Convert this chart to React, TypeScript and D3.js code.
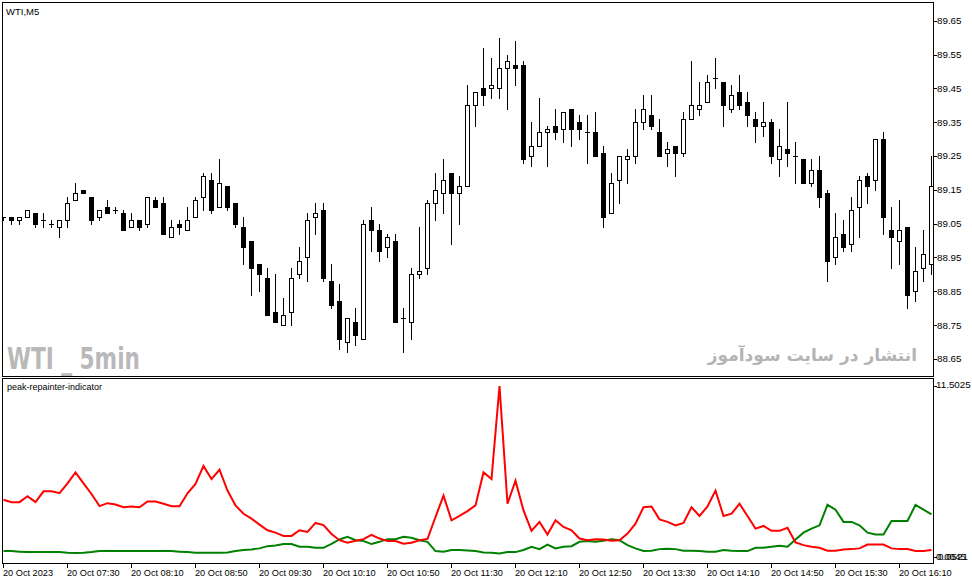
import * as d3 from "d3"
import React from "react"

// 5 minute WTI bars, 20 Oct 2023 from 06:50
const opens = [
  89.07, 89.07, 89.06, 89.07, 89.08, 89.06, 89.05, 89.04, 89.06, 89.12,
  89.15, 89.13, 89.07, 89.1, 89.09, 89.08, 89.04, 89.06, 89.05, 89.12,
  89.11, 89.01, 89.05, 89.03, 89.07, 89.13, 89.18, 89.1, 89.16, 89.11,
  89.04, 89.0, 88.93, 88.89, 88.79, 88.75, 88.79, 88.9, 88.95, 89.07,
  89.09, 88.88, 88.82, 88.7, 88.76, 88.71, 89.06, 89.03, 88.98, 89.0,
  88.77, 88.76, 88.9, 88.92, 89.11, 89.14, 89.2, 89.14, 89.16, 89.4,
  89.45, 89.45, 89.45, 89.51, 89.52, 89.52, 89.25, 89.28, 89.32, 89.34,
  89.33, 89.39, 89.35, 89.32, 89.32, 89.26, 89.08, 89.18, 89.24, 89.25,
  89.35, 89.37, 89.32, 89.26, 89.28, 89.26, 89.36, 89.39, 89.41, 89.48,
  89.47, 89.39, 89.44, 89.41, 89.36, 89.34, 89.35, 89.24, 89.27, 89.25,
  89.24, 89.17, 89.21, 89.14, 88.95, 89.02, 88.99, 89.1, 89.19, 89.18,
  89.3, 89.03, 89.0, 89.04, 88.85, 88.92, 88.93,
]
const highs = [
  89.07, 89.07, 89.07, 89.09, 89.08, 89.08, 89.06, 89.06, 89.13, 89.17,
  89.15, 89.13, 89.09, 89.12, 89.1, 89.09, 89.08, 89.06, 89.13, 89.13,
  89.13, 89.06, 89.06, 89.1, 89.13, 89.2, 89.2, 89.24, 89.16, 89.11,
  89.07, 89.0, 88.93, 88.92, 88.9, 88.83, 88.92, 88.98, 89.08, 89.11,
  89.11, 88.93, 88.87, 88.77, 88.8, 89.06, 89.1, 89.05, 89.02, 89.02,
  88.8, 88.92, 89.04, 89.12, 89.2, 89.24, 89.2, 89.19, 89.46, 89.44,
  89.57, 89.54, 89.6, 89.55, 89.59, 89.53, 89.35, 89.42, 89.34, 89.39,
  89.38, 89.39, 89.37, 89.37, 89.38, 89.28, 89.2, 89.25, 89.27, 89.39,
  89.43, 89.43, 89.36, 89.29, 89.28, 89.38, 89.53, 89.47, 89.49, 89.54,
  89.47, 89.46, 89.49, 89.44, 89.38, 89.41, 89.36, 89.33, 89.41, 89.29,
  89.24, 89.24, 89.25, 89.15, 89.08, 89.06, 89.13, 89.19, 89.2, 89.3,
  89.32, 89.1, 89.12, 89.04, 88.98, 89.03, 89.25,
]
const lows = [
  89.06, 89.05, 89.05, 89.07, 89.04, 89.04, 89.04, 89.01, 89.04, 89.12,
  89.14, 89.05, 89.06, 89.08, 89.08, 89.03, 89.04, 89.03, 89.04, 89.1,
  89.02, 89.01, 89.02, 89.03, 89.07, 89.09, 89.08, 89.1, 89.09, 89.04,
  88.93, 88.84, 88.85, 88.78, 88.76, 88.75, 88.75, 88.89, 88.88, 89.02,
  88.88, 88.8, 88.68, 88.67, 88.69, 88.71, 88.97, 88.94, 88.95, 88.76,
  88.67, 88.71, 88.89, 88.9, 89.06, 89.08, 88.99, 89.05, 89.16, 89.34,
  89.4, 89.42, 89.42, 89.39, 89.46, 89.23, 89.22, 89.28, 89.22, 89.3,
  89.29, 89.28, 89.3, 89.23, 89.25, 89.04, 89.08, 89.11, 89.17, 89.23,
  89.33, 89.33, 89.25, 89.22, 89.19, 89.25, 89.36, 89.37, 89.41, 89.45,
  89.34, 89.38, 89.39, 89.34, 89.29, 89.31, 89.23, 89.19, 89.22, 89.17,
  89.17, 89.16, 89.1, 88.88, 88.93, 88.97, 88.97, 89.01, 89.11, 89.15,
  89.02, 88.92, 88.93, 88.8, 88.82, 88.88, 88.9,
]
const closes = [
  89.07, 89.06, 89.07, 89.09, 89.05, 89.06, 89.05, 89.06, 89.11, 89.14,
  89.14, 89.06, 89.09, 89.08, 89.09, 89.03, 89.06, 89.04, 89.13, 89.1,
  89.02, 89.04, 89.04, 89.06, 89.12, 89.19, 89.09, 89.17, 89.1, 89.05,
  88.98, 88.92, 88.9, 88.78, 88.76, 88.78, 88.89, 88.94, 89.06, 89.08,
  88.89, 88.81, 88.71, 88.77, 88.72, 89.05, 89.03, 88.97, 89.01, 88.76,
  88.77, 88.9, 88.91, 89.11, 89.15, 89.18, 89.14, 89.16, 89.4, 89.44,
  89.43, 89.46, 89.51, 89.53, 89.51, 89.24, 89.28, 89.32, 89.33, 89.32,
  89.38, 89.33, 89.33, 89.32, 89.25, 89.07, 89.17, 89.25, 89.25, 89.35,
  89.39, 89.34, 89.25, 89.27, 89.26, 89.36, 89.4, 89.4, 89.47, 89.48,
  89.4, 89.43, 89.4, 89.37, 89.34, 89.35, 89.25, 89.28, 89.26, 89.25,
  89.17, 89.21, 89.13, 88.94, 89.01, 88.98, 89.09, 89.18, 89.16, 89.3,
  89.07, 89.01, 89.03, 88.84, 88.91, 88.96, 89.16,
]

// peak-repainter-indicator buffers
const redLine = [
  3.85, 3.69, 3.69, 4.09, 3.69, 4.42, 4.42, 4.29, 4.95, 5.69,
  4.95, 4.24, 3.42, 3.62, 3.53, 3.35, 3.4, 3.35, 3.73, 3.73,
  3.58, 3.42, 3.42, 4.29, 4.91, 6.13, 5.24, 5.87, 4.47, 3.47,
  2.91, 2.58, 2.18, 1.8, 1.64, 1.42, 1.42, 1.8, 1.69, 2.29,
  2.15, 1.55, 1.13, 0.96, 1.09, 1.2, 1.49, 1.24, 1.07, 1.07,
  0.89, 0.96, 1.13, 1.22, 2.69, 4.13, 2.47, 2.76, 3.09, 3.47,
  5.69, 5.24, 11.5025, 3.58, 5.13, 3.13, 1.76, 2.36, 1.51, 2.47,
  2.02, 1.8, 1.24, 1.13, 1.2, 1.18, 1.09, 1.13, 1.58, 2.24,
  3.35, 3.4, 2.53, 2.36, 2.13, 2.29, 3.35, 2.76, 3.4, 4.47,
  2.76, 2.91, 3.58, 2.76, 1.91, 2.09, 1.76, 1.76, 1.96, 0.98,
  0.8, 0.69, 0.62, 0.42, 0.42, 0.51, 0.53, 0.58, 0.84, 0.84,
  0.84, 0.58, 0.53, 0.53, 0.4, 0.4, 0.47,
]
const greenLine = [
  0.4, 0.4, 0.36, 0.33, 0.33, 0.33, 0.33, 0.33, 0.29, 0.27,
  0.29, 0.33, 0.4, 0.4, 0.4, 0.4, 0.4, 0.4, 0.4, 0.4,
  0.4, 0.4, 0.36, 0.33, 0.29, 0.29, 0.29, 0.29, 0.31, 0.4,
  0.47, 0.51, 0.58, 0.73, 0.78, 0.87, 0.87, 0.69, 0.69, 0.62,
  0.62, 0.88, 1.18, 1.36, 1.13, 1.07, 0.87, 1.02, 1.2, 1.2,
  1.36, 1.29, 1.13, 1.02, 0.4, 0.36, 0.47, 0.47, 0.44, 0.4,
  0.31, 0.29, 0.24, 0.33, 0.33, 0.47, 0.69, 0.53, 0.84, 0.58,
  0.69, 0.73, 1.02, 1.07, 1.02, 1.09, 1.2, 1.13, 0.8, 0.58,
  0.41, 0.42, 0.53, 0.56, 0.53, 0.42, 0.42, 0.4, 0.36, 0.36,
  0.47, 0.42, 0.4, 0.4, 0.62, 0.62, 0.69, 0.76, 0.69, 1.18,
  1.64, 1.91, 2.13, 3.51, 3.18, 2.36, 2.36, 2.13, 1.64, 1.51,
  1.51, 2.42, 2.42, 2.42, 3.51, 3.18, 2.87,
]

const timeLabels = [
  "20 Oct 2023", "20 Oct 07:30", "20 Oct 08:10", "20 Oct 08:50", "20 Oct 09:30",
  "20 Oct 10:10", "20 Oct 10:50", "20 Oct 11:30", "20 Oct 12:10", "20 Oct 12:50",
  "20 Oct 13:30", "20 Oct 14:10", "20 Oct 14:50", "20 Oct 15:30", "20 Oct 16:10",
]
const barsPerLabel = 8
const priceTicks = [89.65, 89.55, 89.45, 89.35, 89.25, 89.15, 89.05, 88.95, 88.85, 88.75, 88.65]
const indMax = 11.5025
const indMinLabels = ["0.0045", "0.0521"]

const W = 972
const H = 584
const left = 2
const right = 933
const mainTop = 2
const mainBottom = 376
const indTop = 378
const indBottom = 563

const axisFont = "Liberation Sans, Arial, sans-serif"

export default function App() {
  const x = d3.scaleLinear().domain([0, 116]).range([3, 931])
  const y = d3.scaleLinear().domain([88.65, 89.65]).range([358.9, 20.7])
  const yi = d3.scaleLinear().domain([0, indMax]).range([557, 386])

  const line = d3
    .line<number>()
    .x((_, i) => x(i) + 0.5)
    .y((v) => yi(v))

  const px = (v: number) => Math.round(v) + 0.5

  return (
    <svg
      width={W}
      height={H}
      style={{ position: "absolute", left: 0, top: 0, background: "#fff" }}
      fontFamily={axisFont}
    >
      <defs>
        <clipPath id="mainClip">
          <rect x={left} y={mainTop} width={right - left} height={mainBottom - mainTop} />
        </clipPath>
        <clipPath id="indClip">
          <rect x={left} y={indTop} width={right - left} height={indBottom - indTop} />
        </clipPath>
      </defs>
      <rect width={W} height={H} fill="#fff" />

      {/* watermarks */}
      <text
        x={7}
        y={369}
        fontFamily="Liberation Sans Narrow, DejaVu Sans Condensed, sans-serif"
        fontWeight="bold"
        fontSize={31}
        fill="#b9b9b9"
        textLength={133}
        lengthAdjust="spacingAndGlyphs"
      >
        WTI _ 5min
      </text>
      <text
        x={917}
        y={361}
        fontFamily="DejaVu Sans, sans-serif"
        fontWeight="bold"
        fontSize={17}
        fill="#b4b4b4"
        textAnchor="start"
        direction="rtl"
      >
        انتشار در سایت سودآموز
      </text>

      {/* candles */}
      <g clipPath="url(#mainClip)" shapeRendering="crispEdges">
        {opens.map((o, i) => {
          const c = closes[i]
          const cx = Math.round(x(i))
          const top = Math.round(y(Math.max(o, c)))
          const bot = Math.round(y(Math.min(o, c)))
          const bull = c >= o
          return (
            <g key={i}>
              <line
                x1={cx + 0.5}
                x2={cx + 0.5}
                y1={Math.round(y(highs[i]))}
                y2={Math.round(y(lows[i])) + 1}
                stroke="#000"
              />
              {bot - top < 1 ? (
                <line x1={cx - 2} x2={cx + 3} y1={top + 0.5} y2={top + 0.5} stroke="#000" />
              ) : (
                <rect
                  x={cx - 1.5}
                  y={top + 0.5}
                  width={4}
                  height={bot - top}
                  fill={bull ? "#fff" : "#000"}
                  stroke="#000"
                />
              )}
            </g>
          )
        })}
      </g>

      {/* indicator */}
      <g clipPath="url(#indClip)">
        <path d={line(greenLine) || ""} fill="none" stroke="#008000" strokeWidth={2} />
        <path d={line(redLine) || ""} fill="none" stroke="#ff0000" strokeWidth={2} />
      </g>

      {/* frames */}
      <g fill="none" stroke="#000" shapeRendering="crispEdges">
        <rect x={left + 0.5} y={mainTop + 0.5} width={right - left} height={mainBottom - mainTop} />
        <rect x={left + 0.5} y={indTop + 0.5} width={right - left} height={indBottom - indTop} />
      </g>

      <text x={6} y={14.5} fontSize={9.5} fill="#000">
        WTI,M5
      </text>
      <text x={7} y={390} fontSize={9} fill="#000">
        peak-repainter-indicator
      </text>

      {/* price axis */}
      <g shapeRendering="crispEdges" fontSize={9.8} fill="#000">
        {priceTicks.map((p) => (
          <g key={p}>
            <line x1={right} x2={right + 4} y1={px(y(p))} y2={px(y(p))} stroke="#000" />
            <text x={right + 4} y={y(p)} dy="0.35em">
              {p.toFixed(2)}
            </text>
          </g>
        ))}
        <line x1={right} x2={right + 4} y1={px(yi(indMax))} y2={px(yi(indMax))} stroke="#000" />
        <text x={right + 3} y={yi(indMax) - 1} dy="0.35em">
          {indMax.toFixed(4)}
        </text>
        <line x1={right} x2={right + 4} y1={px(yi(0))} y2={px(yi(0))} stroke="#000" />
        {indMinLabels.map((t, k) => (
          <text key={t} x={right + 3 + k * 2} y={yi(0)} dy="0.35em">
            {t}
          </text>
        ))}
      </g>

      {/* time axis */}
      <g shapeRendering="crispEdges" fontSize={9.2} fill="#000">
        {timeLabels.map((t, k) => {
          const tx = Math.round(x(k * barsPerLabel))
          return (
            <g key={t}>
              <line x1={tx + 0.5} x2={tx + 0.5} y1={indBottom} y2={indBottom + 5} stroke="#000" />
              <text x={tx} y={576}>
                {t}
              </text>
            </g>
          )
        })}
      </g>
    </svg>
  )
}
